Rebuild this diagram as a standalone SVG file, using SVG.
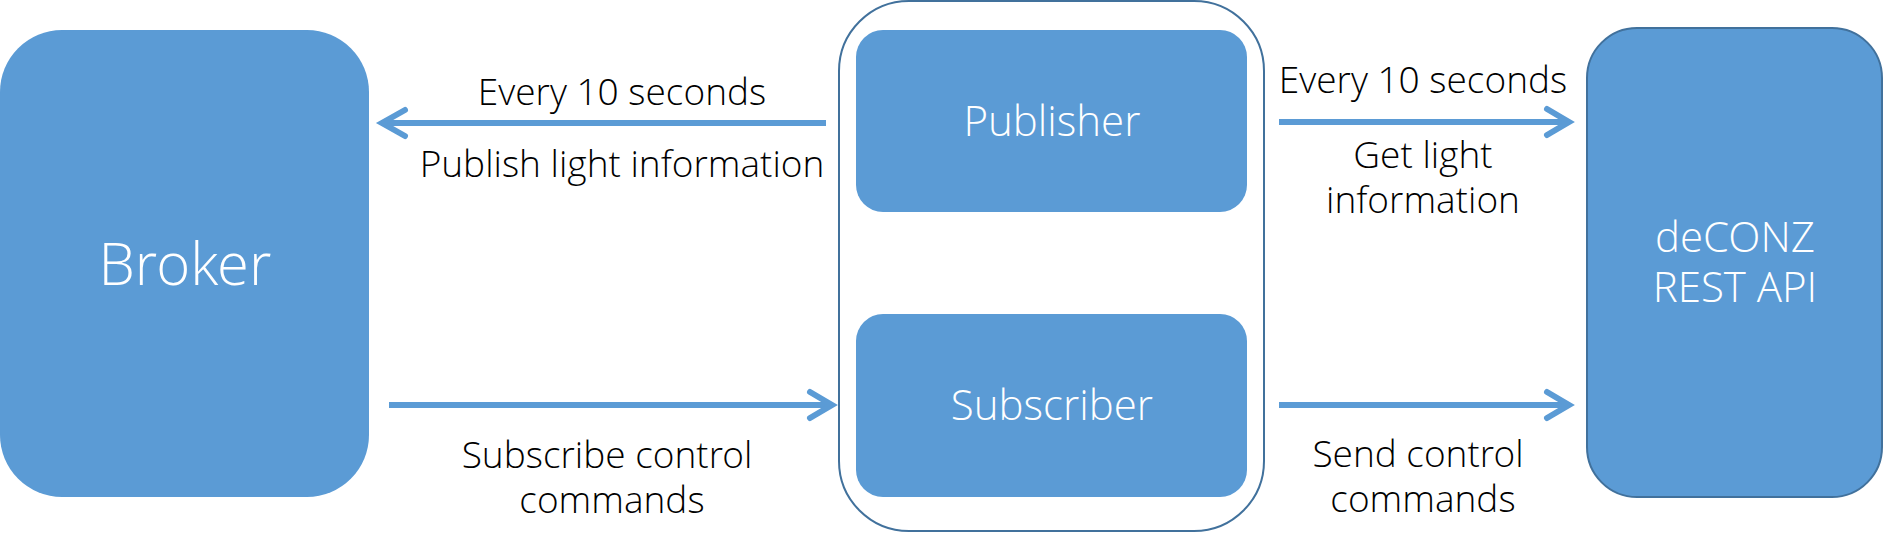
<svg xmlns="http://www.w3.org/2000/svg" width="1884" height="546" viewBox="0 0 1884 546">
  <style>
    .node { fill: #5B9BD5; }
    .stroked { stroke: #41719C; stroke-width: 2; }
    .ntext { font-family: "Open Sans Light", "Open Sans", "Liberation Sans", sans-serif; font-weight: 300; fill: #FFFFFF; text-anchor: middle; }
    .ltext { font-family: "Open Sans Light", "Open Sans", "Liberation Sans", sans-serif; font-weight: 300; font-size: 37px; fill: #000000; text-anchor: middle; }
    .conn { stroke: #5B9BD5; stroke-width: 6; fill: none; stroke-linecap: butt; }
    .head { stroke: #5B9BD5; stroke-width: 6; fill: none; stroke-linecap: round; stroke-linejoin: miter; }
  </style>
  <rect width="1884" height="546" fill="#FFFFFF"/>

  <g id="broker">
    <rect class="node" x="0" y="30" width="369" height="467" rx="62" ry="62"/>
    <text class="ntext" x="185" y="285" font-size="58">Broker</text>
  </g>

  <g id="client">
    <rect x="839" y="1" width="425" height="530" rx="70" ry="70" fill="none" class="stroked"/>
  </g>

  <g id="publisher">
    <rect class="node" x="856" y="30" width="391" height="182" rx="27" ry="27"/>
    <text class="ntext" x="1052" y="136" font-size="42">Publisher</text>
  </g>

  <g id="subscriber">
    <rect class="node" x="856" y="314" width="391" height="183" rx="27" ry="27"/>
    <text class="ntext" x="1052" y="420" font-size="42">Subscriber</text>
  </g>

  <g id="deconz">
    <rect class="node stroked" x="1587" y="28" width="295" height="469" rx="50" ry="50"/>
    <text class="ntext" x="1735" y="252" font-size="42">deCONZ</text>
    <text class="ntext" x="1735" y="302" font-size="42">REST API</text>
  </g>

  <g id="connectors">
    <line class="conn" x1="826" y1="123" x2="384" y2="123"/>
    <polyline class="head" points="405,110 382,123 405,136"/>

    <line class="conn" x1="389" y1="405" x2="830" y2="405"/>
    <polyline class="head" points="810,392 832,405 810,418"/>

    <line class="conn" x1="1279" y1="122" x2="1567" y2="122"/>
    <polyline class="head" points="1547,109 1569,122 1547,135"/>

    <line class="conn" x1="1279" y1="405" x2="1567" y2="405"/>
    <polyline class="head" points="1547,392 1569,405 1547,418"/>
  </g>

  <g id="labels">
    <text class="ltext" x="622" y="105">Every 10 seconds</text>
    <text class="ltext" x="622" y="177">Publish light information</text>
    <text class="ltext" x="607" y="468">Subscribe control</text>
    <text class="ltext" x="612" y="513">commands</text>
    <text class="ltext" x="1423" y="93">Every 10 seconds</text>
    <text class="ltext" x="1423" y="168">Get light</text>
    <text class="ltext" x="1423" y="213">information</text>
    <text class="ltext" x="1418" y="467">Send control</text>
    <text class="ltext" x="1423" y="512">commands</text>
  </g>
</svg>
